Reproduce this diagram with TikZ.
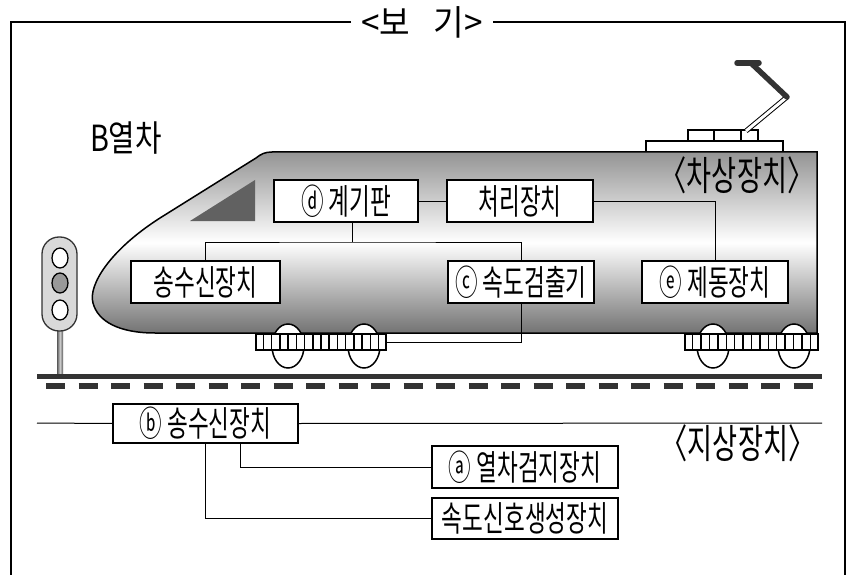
\documentclass[tikz,border=0pt]{standalone}
\usepackage{fontspec}
\newfontfamily\kr{Noto Sans CJK KR}[FakeStretch=0.645]
\newfontfamily\krb{Noto Sans CJK KR}[FakeStretch=0.68]
\newfontfamily\krl{Noto Sans CJK KR}[FakeStretch=0.80]
\newfontfamily\krw{Noto Sans CJK KR}[FakeStretch=0.95]
\usetikzlibrary{calc}
\newcommand\bxfont{\kr\fontsize{35}{38}\selectfont}
\newcommand\bigfont{\krb\fontsize{40}{44}\selectfont}
\newcommand\ttlfont{\krw\fontsize{35}{38}\selectfont}
\tikzset{
  box/.style={draw, line width=1.3pt, fill=white, inner sep=0pt, minimum height=42pt, font=\bxfont},
  conn/.style={line width=1pt},
  frameline/.style={line width=1.3pt},
  wheel/.style={draw, line width=1.5pt, fill=white},
  bogie/.style={draw, line width=1.5pt, fill=white, inner sep=0pt, minimum height=16pt},
  plain/.style={inner sep=0pt}
}
\begin{document}
\begin{tikzpicture}[x=1pt, y=-1pt]
\useasboundingbox (0,0) rectangle (849,575);
% frame and title
\node[plain, font=\ttlfont] (title) at (422,22) {<보\,\,\,\,기>};
\coordinate (ftl) at (11,22);
\coordinate (ftr) at (845,22);
\coordinate (fbl) at (11,580);
\coordinate (fbr) at (845,580);
\coordinate (tl) at (351,22);
\coordinate (tr) at (493,22);
\draw[frameline] (tl) -- (ftl) -- (fbl);
\draw[frameline] (tr) -- (ftr) -- (fbr);
% label
\node[plain, font=\krl\fontsize{36}{40}\selectfont] (blabel) at (126,138) {B열차};
% roof equipment
\draw[line width=1.1pt, fill=white] (646,141) rectangle (783,152);
\draw[line width=1.1pt, fill=white] (688,130) rectangle (758,141);
\draw[line width=1.1pt] (714,130) -- (714,141) (741,130) -- (741,141);
\draw[double=white, double distance=3pt, line width=1pt] (746,131) -- (787,97);
\draw[line width=5.5pt, black!80, line cap=round] (787,97) -- (752,64);
\draw[line width=5.5pt, black!80, line cap=round] (737,63) -- (759,63);
% train body
\draw[line width=1.5pt, top color=black!42, bottom color=black!55, middle color=white]
  (817,152) -- (272,152) .. controls (265,152) and (261,154) .. (256,158)
  -- (160,218) .. controls (110,250) and (88,285) .. (93,303)
  .. controls (98,322) and (120,333) .. (155,333) -- (817,333) -- cycle;
% window
\fill[black!62] (190,221) -- (255,180) -- (255,221) -- cycle;
\node[plain, font=\bigfont] (car) at (737,175) {〈차상장치〉};
% boxes on the train
\node[box, minimum width=144pt] (d) at (346,201) {ⓓ 계기판};
\node[box, minimum width=146pt] (p) at (520,201) {처리장치};
\node[box, minimum width=149pt] (s) at (205.5,282) {송수신장치};
\node[box, minimum width=146pt] (c) at (521,282) {ⓒ 속도검출기};
\node[box, minimum width=146pt] (e) at (715,282) {ⓔ 제동장치};
\coordinate (jd) at (352,242);
\draw[conn] (d.east) -- (p.west);
\draw[conn] (p.east) -| (e.north);
\draw[conn] (d.south -| jd) -- (jd);
\draw[conn] (s.north) |- (jd) -| (c.north);
% wheels
\foreach \wx in {288,364,713,794}{
  \draw[wheel] (\wx,346) ellipse [x radius=16, y radius=22];
}
\node[bogie, minimum width=130pt] (bogL) at (321,342) {};
\node[bogie, minimum width=133pt] (bogR) at (751.5,342) {};
\foreach \k in {1,...,15}{
  \draw[line width=1.5pt] ($(bogL.south west)!\k/16!(bogL.south east)$) -- ($(bogL.north west)!\k/16!(bogL.north east)$);
  \draw[line width=1.5pt] ($(bogR.south west)!\k/16!(bogR.south east)$) -- ($(bogR.north west)!\k/16!(bogR.north east)$);
}
\draw[conn] (c.south) |- (bogL.east);
% rails
\draw[line width=5pt, black!80] (37,376) -- (822,376);
\draw[line width=5.5pt, black!80, dash pattern=on 19pt off 13.5pt] (46,386) -- (822,386);
% signal
\draw[draw=none, left color=black!65, right color=black!65, middle color=black!20] (57,331) rectangle (63,373);
\draw[line width=1.3pt, draw=black!80, fill=black!15, rounded corners=17pt] (42,237) rectangle (77,331);
\draw[line width=1.3pt, fill=white] (60,258) ellipse [x radius=8, y radius=10];
\draw[line width=1.3pt, fill=black!40] (60,283) ellipse [x radius=8, y radius=10];
\draw[line width=1.3pt, fill=white] (60,310) ellipse [x radius=8, y radius=10];
% ground equipment
\node[box, minimum width=185pt, minimum height=39pt] (b) at (205.5,423.5) {ⓑ 송수신장치};
\node[box, minimum width=186pt] (a) at (525,467) {ⓐ 열차검지장치};
\node[box, minimum width=186pt, minimum height=41pt] (g) at (525,518.5) {속도신호생성장치};
\coordinate (gl) at (37,423);
\coordinate (gr) at (822,423);
\draw[conn] (gl) -- (b.west);
\draw[conn] (b.east) -- (gr);
\draw[conn] (b.south) ++(35,0) |- (a.west);
\draw[conn] (b.south) |- (g.west);
\node[plain, font=\bigfont] (gnd) at (738,443) {〈지상장치〉};
\end{tikzpicture}
\end{document}
